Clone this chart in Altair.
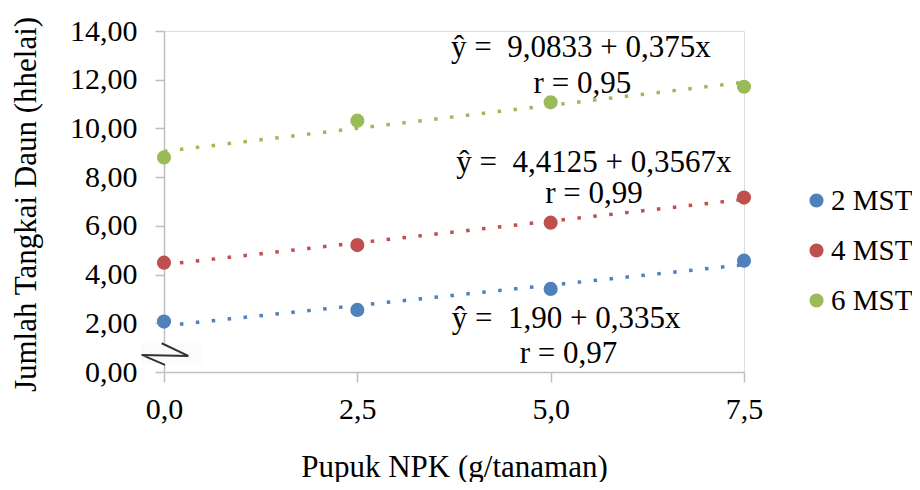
import altair as alt
import pandas as pd

# ---- data ----
x_vals = [0.0, 2.5, 5.0, 7.5]
mst2 = [2.07, 2.55, 3.41, 4.57]
mst4 = [4.49, 5.21, 6.13, 7.16]
mst6 = [8.81, 10.32, 11.07, 11.71]
series_names = ["2 MST", "4 MST", "6 MST"]
series_colors = ["#4F81BD", "#C0504D", "#9BBB59"]
y_ticks = [0, 2, 4, 6, 8, 10, 12, 14]
x_ticks = [0.0, 2.5, 5.0, 7.5]

# regression labels (text) and their anchor positions (data units)
eq_text = [
    "ŷ = \u00a09,0833 + 0,375x", "r = 0,95",
    "ŷ = \u00a04,4125 + 0,3567x", "r = 0,99",
    "ŷ = \u00a01,90 + 0,335x", "r = 0,97",
]
eq_x = [5.39, 5.41, 5.56, 5.56, 5.20, 5.23]
eq_y = [12.94, 11.45, 8.22, 6.94, 1.81, 0.37]

# axis-break decoration (data units)
brk_x = [-0.03, 0.314, -0.288, 0.013]
brk_y = [1.18, 0.66, 0.70, 0.29]
brk_box = {"x": -0.297, "x2": 0.491, "y": 1.19, "y2": 0.33}

rows = []
for name, vals in zip(series_names, [mst2, mst4, mst6]):
    for xv, yv in zip(x_vals, vals):
        rows.append({"x": xv, "y": yv, "series": name})
df = pd.DataFrame(rows)
ann = pd.DataFrame({"x": eq_x, "y": eq_y, "text": eq_text})
brk = pd.DataFrame({"x": brk_x, "y": brk_y, "o": list(range(len(brk_x)))})
box = pd.DataFrame([brk_box])

FONT = "Liberation Serif"
AX = "#BFBFBF"

xscale = alt.Scale(domain=[0, 7.5], nice=False, zero=False)
yscale = alt.Scale(domain=[0, 14], nice=False)
cscale = alt.Scale(domain=series_names, range=series_colors)

x_axis = alt.Axis(
    values=x_ticks,
    labelExpr="replace(format(datum.value, '.1f'), '.', ',')",
    labelFlush=False,
    title="Pupuk NPK (g/tanaman)",
    titleX=290, titleY=104, titleBaseline="alphabetic",
    titleFontSize=31, titleFont=FONT, titleFontWeight="normal", titleColor="black",
    labelFont=FONT, labelFontSize=30, labelColor="black",
    labelPadding=12, tickSize=10, tickColor=AX, domainColor=AX,
    domainWidth=1.5, tickWidth=1.5, grid=False,
)
y_axis = alt.Axis(
    values=y_ticks,
    labelExpr="replace(format(datum.value, '.2f'), '.', ',')",
    labelFlush=False,
    title="Jumlah Tangkai Daun (hhelai)",
    titleX=-122, titleY=173,
    titleFontSize=31, titleFont=FONT, titleFontWeight="normal", titleColor="black",
    labelFont=FONT, labelFontSize=30, labelColor="black",
    labelPadding=18, tickSize=9, tickColor=AX, domainColor=AX,
    domainWidth=1.5, tickWidth=1.5, grid=False,
)

base = alt.Chart(df)

lines = base.transform_regression(
    "x", "y", groupby=["series"], extent=[0, 7.5]
).mark_line(strokeWidth=3.5, strokeDash=[3.5, 12.5], strokeCap="butt").encode(
    x=alt.X("x:Q", scale=xscale, axis=x_axis),
    y=alt.Y("y:Q", scale=yscale, axis=y_axis),
    color=alt.Color("series:N", scale=cscale, legend=None),
)

points = base.mark_circle(size=200, opacity=1).encode(
    x=alt.X("x:Q", scale=xscale),
    y=alt.Y("y:Q", scale=yscale),
    color=alt.Color(
        "series:N", scale=cscale,
        legend=alt.Legend(
            title=None, orient="none", legendX=638, legendY=155,
            labelFont=FONT, labelFontSize=29, labelColor="black",
            symbolType="circle", symbolSize=200, symbolStrokeWidth=0,
            rowPadding=20, labelOffset=0, padding=0,
        ),
    ),
)

texts = alt.Chart(ann).mark_text(
    font=FONT, fontSize=31, color="black", align="center", baseline="alphabetic"
).encode(
    x=alt.X("x:Q", scale=xscale),
    y=alt.Y("y:Q", scale=yscale),
    text="text:N",
)

brk_rect = alt.Chart(box).mark_rect(color="#FBFBFB").encode(
    x=alt.X("x:Q", scale=xscale), x2="x2:Q",
    y=alt.Y("y:Q", scale=yscale), y2="y2:Q",
)
brk_line = alt.Chart(brk).mark_line(color="#333333", strokeWidth=2).encode(
    x=alt.X("x:Q", scale=xscale),
    y=alt.Y("y:Q", scale=yscale),
    order="o:Q",
)

chart = alt.layer(lines, points, texts, brk_rect, brk_line).resolve_scale(
    color="independent"
).properties(
    width=580, height=341,
    autosize=alt.AutoSizeParams(type="none"),
    padding={"left": 156, "top": 23, "right": 168, "bottom": 110},
).configure_view(stroke=None).configure(background="white")

chart.save("out.html", embed_options={"renderer": "svg", "actions": False})
